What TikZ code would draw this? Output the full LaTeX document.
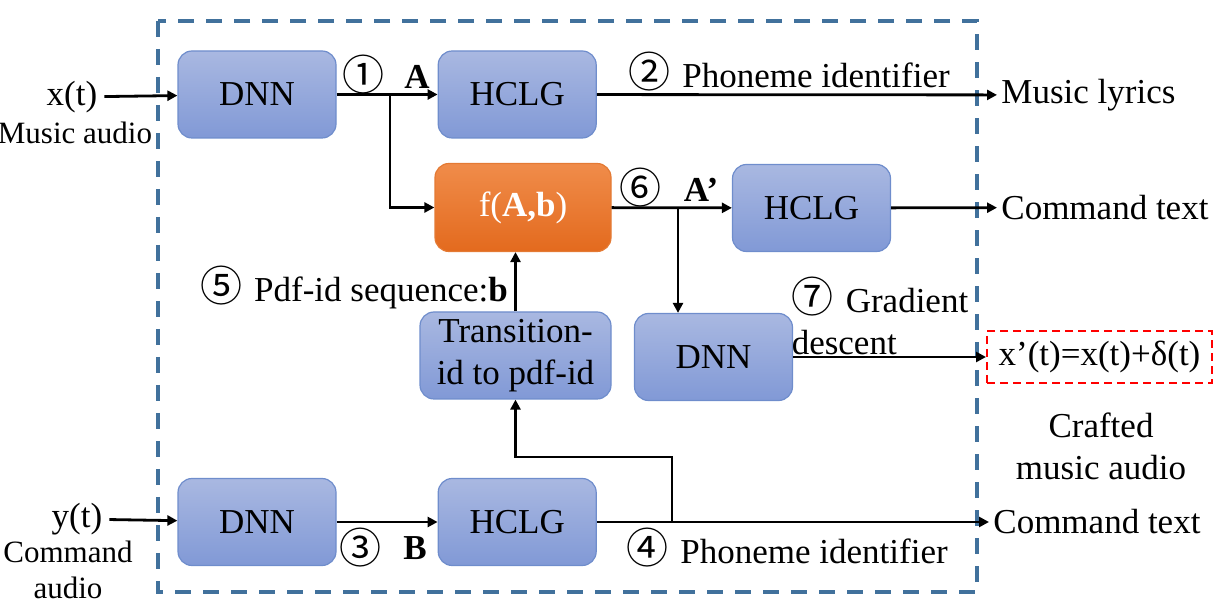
\documentclass[tikz,border=0pt]{standalone}
\usepackage{fontspec}
\setmainfont{Liberation Serif}
\newfontfamily\circfont{Noto Sans CJK SC}
\usetikzlibrary{positioning, arrows.meta}

\definecolor{boxtop}{HTML}{A9B8E1}
\definecolor{boxbot}{HTML}{8199D6}
\definecolor{boxline}{HTML}{6F8DCC}
\definecolor{fntop}{HTML}{F08C4A}
\definecolor{fnbot}{HTML}{E36A1E}
\definecolor{fnline}{HTML}{E47A34}
\definecolor{framecol}{HTML}{41719C}

\newcommand{\cnum}[1]{{\circfont\fontsize{21}{21}\selectfont #1}}

\begin{document}
\begin{tikzpicture}[x=0.5pt, y=-0.5pt, >={Triangle[length=5pt,width=5pt]},
    every node/.style={font=\fontsize{17.5}{21}\selectfont, align=center},
    block/.style={
        rectangle,
        rounded corners=7pt,
        draw=boxline,
        line width=0.6pt,
        top color=boxtop,
        bottom color=boxbot,
        minimum width=79pt,
        minimum height=43.5pt,
        inner sep=2pt
    },
    fnblock/.style={block, draw=fnline, top color=fntop, bottom color=fnbot,
        minimum width=88pt, minimum height=44pt, text=white},
    outlbl/.style={anchor=west, inner sep=2pt},
    small/.style={font=\fontsize{15.5}{18}\selectfont, inner sep=1pt},
    conn/.style={->, line width=1.4pt}]

    \useasboundingbox (0,0) rectangle (1214,613);

    % Outer frame
    \draw[framecol, line width=2pt, dash pattern=on 8pt off 6pt] (158,21) rectangle (977,592);

    % Blocks
    \node[block] (dnnA) at (257,94.5) {DNN};
    \node[block, right=50.5pt of dnnA] (hclgA) {HCLG};
    \node[fnblock] (fAb) at (523,207.5) {f(\textbf{A,b})};
    \node[block] (hclgC) at (811.5,208) {HCLG};
    \node[block] (dnnG) at (713.5,357) {DNN};
    \node[block, minimum width=95.5pt] (trans) at (515.5,355.5) {Transition-\\id to pdf-id};
    \node[block] (dnnB) at (257,522) {DNN};
    \node[block, right=50.5pt of dnnB] (hclgB) {HCLG};

    % Inputs and outputs
    \node (xin) at (72,97) {x(t)};
    \node[small] (xlbl) at (75,133) {Music audio};
    \node (yin) at (77,519) {y(t)};
    \node[small] (ylbl) at (68,570) {Command\\audio};
    \node[outlbl] (lyrics) at (997,95) {Music lyrics};
    \node[outlbl] (cmdA) at (997,207.5) {Command text};
    \node[outlbl, draw=red, line width=1pt, dash pattern=on 4pt off 2.5pt,
        minimum width=112.5pt, minimum height=26pt] (xadv) at (986,357) {x’(t)=x(t)+δ(t)};
    \node (crafted) at (1101,446) {Crafted\\music audio};
    \node[outlbl] (cmdB) at (989,522) {Command text};

    % Step labels
    \node (s1) at (363,75) {\cnum{①}};
    \node (lA) at (417,77) {\textbf{A}};
    \node (s2) at (789,72) {\cnum{②}\hspace{6pt}Phoneme identifier};
    \node (s3) at (360,548) {\cnum{③}};
    \node (lB) at (415,548) {\textbf{B}};
    \node (s4) at (787,548) {\cnum{④}\hspace{6pt}Phoneme identifier};
    \node (s5) at (354,287) {\cnum{⑤}\hspace{6pt}Pdf-id sequence:\textbf{b}};
    \node (s6) at (640,188) {\cnum{⑥}};
    \node (lA2) at (701,190) {\textbf{A’}};
    \node[align=left] (s7) at (880,316) {\cnum{⑦}\hspace{6pt}Gradient\\descent};

    % Connections
    \path[conn]
        (xin) edge (dnnA)
        (dnnA) edge (hclgA)
        (hclgA) edge (lyrics)
        (fAb) edge (hclgC)
        (hclgC) edge (cmdA)
        (yin) edge (dnnB)
        (dnnB) edge (hclgB)
        (hclgB) edge (cmdB);
    \draw[conn] (dnnG.east) -- (xadv.west);

    \coordinate (brA) at (390,94.5);
    \coordinate (brC) at (678,207.5);
    \coordinate (brB) at (672,522);
    \draw[conn] (brA) |- (fAb.west);
    \draw[conn] (brC) -- (brC |- dnnG.north);
    \draw[conn] (trans.north) -- (trans.north |- fAb.south);
    \draw[conn] (brB) -- ++(0,-65) -| (trans.south);
\end{tikzpicture}
\end{document}
